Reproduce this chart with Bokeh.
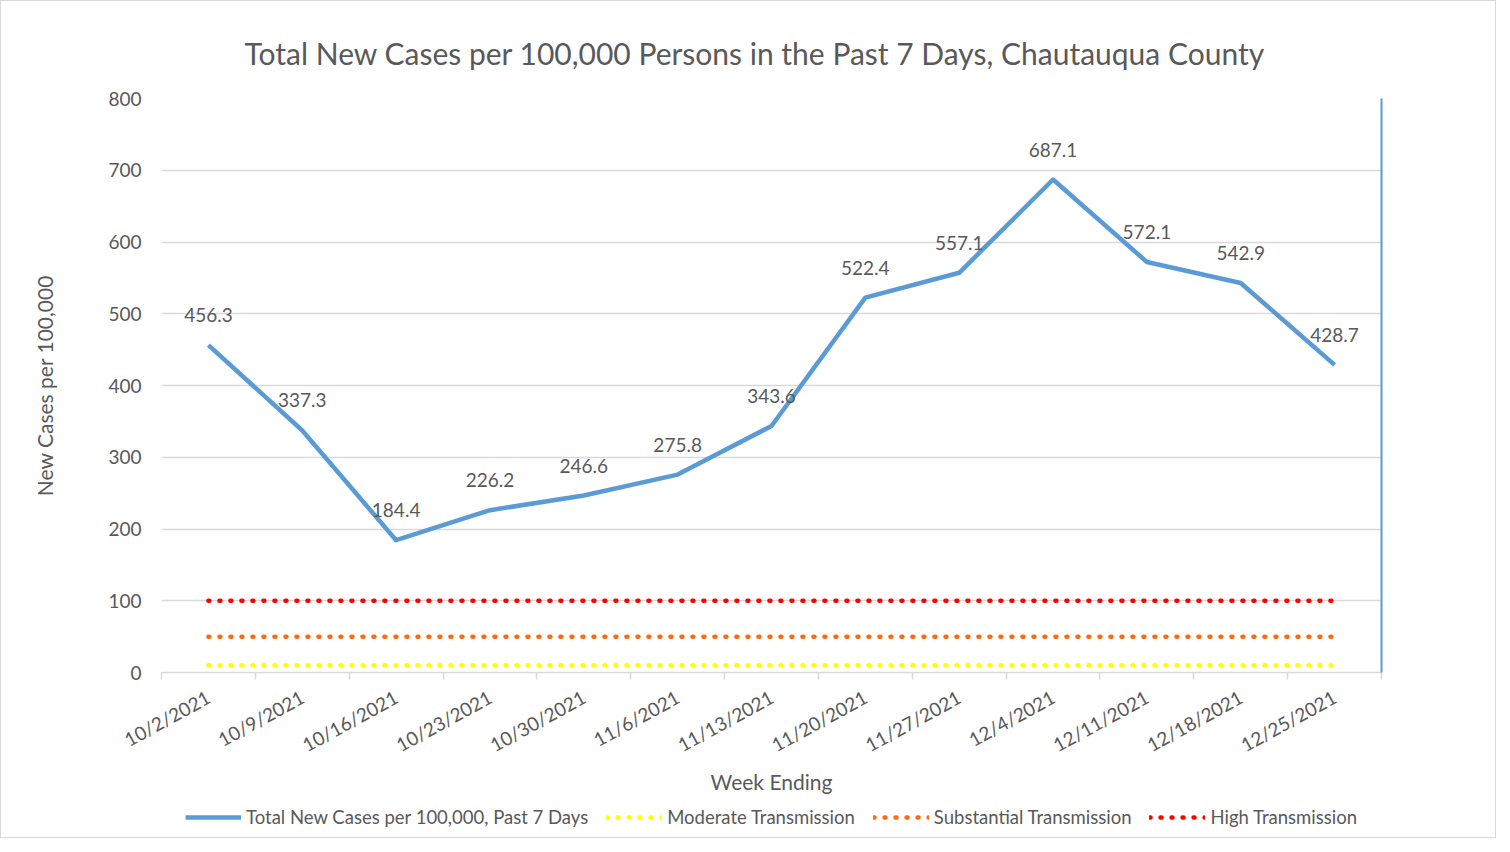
from bokeh.plotting import figure
from bokeh.layouts import column
from bokeh.models import (Range1d, FixedTicker, LinearAxis, Legend, LegendItem,
                          ColumnDataSource, Title)
from bokeh.core.properties import value
from bokeh.embed import file_html
from bokeh.resources import INLINE

weeks = ["10/2/2021", "10/9/2021", "10/16/2021", "10/23/2021", "10/30/2021",
         "11/6/2021", "11/13/2021", "11/20/2021", "11/27/2021", "12/4/2021",
         "12/11/2021", "12/18/2021", "12/25/2021"]
cases = [456.3, 337.3, 184.4, 226.2, 246.6, 275.8, 343.6, 522.4, 557.1,
         687.1, 572.1, 542.9, 428.7]
moderate = [10] * len(weeks)
substantial = [50] * len(weeks)
high = [100] * len(weeks)
y_ticks = [0, 100, 200, 300, 400, 500, 600, 700, 800]
series_names = ["Total New Cases per 100,000, Past 7 Days", "Moderate Transmission",
                "Substantial Transmission", "High Transmission"]

FONT = "Lato"
GREY = "#595959"
BLUE = "#5B9BD5"
YELLOW = "#FFFF00"
ORANGE = "#FF6A10"
RED = "#FF0000"

xc = [i + 0.5 for i in range(len(weeks))]
src = ColumnDataSource(dict(x=xc, cases=cases, moderate=moderate,
                            substantial=substantial, high=high,
                            lab=[f"{v:.1f}" for v in cases]))

W = 1494
H_MAIN = 796
H_LEG = 40

p = figure(width=W, height=H_MAIN, output_backend="svg", toolbar_location=None,
           x_range=Range1d(0, len(weeks)), y_range=Range1d(0, 800),
           min_border_left=160, min_border_right=114, min_border_top=97,
           min_border_bottom=H_MAIN - 675)
p.outline_line_color = None

p.title = Title(text="Total New Cases per 100,000 Persons in the Past 7 Days, Chautauqua County",
                align="left", offset=83, text_font=FONT, text_font_size="30px",
                text_font_style="normal", text_color=GREY, standoff=56)

# x axis
xa = p.xaxis[0]
xa.ticker = FixedTicker(ticks=xc, minor_ticks=list(range(len(weeks) + 1)))
xa.major_label_overrides = {x: w for x, w in zip(xc, weeks)}
xa.major_label_orientation = 0.5
xa.major_tick_line_color = None
xa.minor_tick_line_color = "#d9d9d9"
xa.minor_tick_line_width = 1.5
xa.minor_tick_out = 7
xa.minor_tick_in = 0
xa.axis_line_color = "#d9d9d9"
xa.axis_line_width = 1.5
xa.major_label_text_font = FONT
xa.major_label_text_font_size = "19px"
xa.major_label_text_color = GREY
xa.major_label_standoff = 16
xa.axis_label = "Week Ending"
xa.axis_label_text_font = FONT
xa.axis_label_text_font_size = "21px"
xa.axis_label_text_font_style = "normal"
xa.axis_label_text_color = GREY
xa.axis_label_standoff = 0

# y axis
ya = p.yaxis[0]
ya.ticker = FixedTicker(ticks=y_ticks)
ya.axis_line_color = None
ya.major_tick_line_color = None
ya.minor_tick_line_color = None
ya.major_label_text_font = FONT
ya.major_label_text_font_size = "19px"
ya.major_label_text_color = GREY
ya.major_label_standoff = 14
ya.axis_label = "New Cases per 100,000"
ya.axis_label_text_font = FONT
ya.axis_label_text_font_size = "21px"
ya.axis_label_text_font_style = "normal"
ya.axis_label_text_color = GREY
ya.axis_label_standoff = 48

p.xgrid.grid_line_color = None
p.ygrid.ticker = FixedTicker(ticks=y_ticks)
p.ygrid.grid_line_color = "#d9d9d9"
p.ygrid.grid_line_width = 1.5

# right blue axis line
ra = LinearAxis(ticker=FixedTicker(ticks=[]), axis_line_color=BLUE,
                axis_line_width=2, major_tick_line_color=None,
                minor_tick_line_color=None, major_label_text_font_size="0px")
p.add_layout(ra, "right")

dot = dict(line_width=4.5, line_dash="1 10", line_cap="round")
p.line("x", "moderate", source=src, line_color=YELLOW, **dot)
p.line("x", "substantial", source=src, line_color=ORANGE, **dot)
p.line("x", "high", source=src, line_color=RED, **dot)
p.line("x", "cases", source=src, line_color=BLUE, line_width=4.5, line_join="round")

p.text("x", "cases", text="lab", source=src, y_offset=-30, text_align="center",
       text_baseline="middle", text_font=value(FONT), text_font_size="19px",
       text_color=GREY)

# legend strip: same series, drawn outside its visible range, only the legend shows
q = figure(width=W, height=H_LEG, output_backend="svg", toolbar_location=None,
           x_axis_location=None, y_axis_location=None,
           min_border_left=26, min_border_right=0, min_border_top=0,
           min_border_bottom=0, x_range=Range1d(100, 101), y_range=Range1d(0, 1))
q.outline_line_color = None
q.grid.grid_line_color = None
l0 = q.line("x", "cases", source=src, line_color=BLUE, line_width=4.5)
l1 = q.line("x", "moderate", source=src, line_color=YELLOW, **dot)
l2 = q.line("x", "substantial", source=src, line_color=ORANGE, **dot)
l3 = q.line("x", "high", source=src, line_color=RED, **dot)

legend = Legend(items=[LegendItem(label=n, renderers=[r])
                       for n, r in zip(series_names, [l0, l1, l2, l3])],
                orientation="horizontal", location="center", border_line_color=None,
                background_fill_alpha=0,
                label_text_font=FONT, label_text_font_size="18.5px",
                label_text_color=GREY, glyph_width=56, spacing=18,
                label_standoff=5, padding=2, margin=0)
q.add_layout(legend, "center")

layout = column(p, q, spacing=0)
layout.styles = {"border": "1px solid #d9d9d9"}

open("out.html", "w").write(file_html(layout, INLINE))
